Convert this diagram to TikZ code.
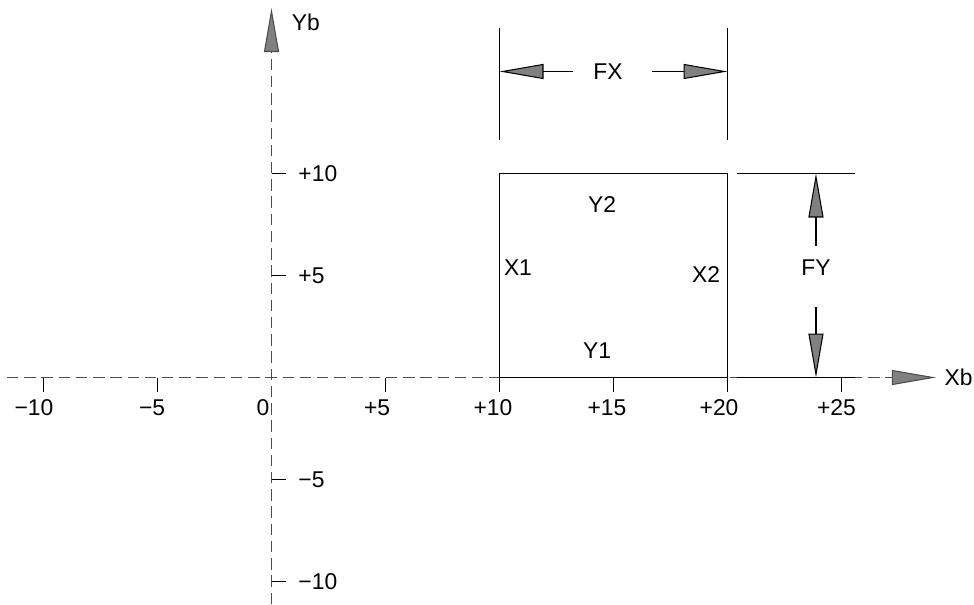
\documentclass[tikz,border=0pt]{standalone}
\usepackage{fontspec}
\setmainfont{Liberation Sans}
\usetikzlibrary{arrows.meta}

\begin{document}
\begin{tikzpicture}[
  x=0.456cm, y=0.408cm,
  line width=0.6pt,
  axis/.style={draw=black!70,dash pattern=on 6.5pt off 3.3pt},
  tick/.style={draw=black},
  extline/.style={draw=black},
  lbl/.style={font=\fontsize{13}{15}\selectfont,inner sep=0pt},
  arrow/.style={-{Triangle[length=0.88cm,width=0.3cm,fill=black!50]},draw=black}
]
\useasboundingbox (-11.908,-11.103) rectangle (30.811,18.505);
% axes
\coordinate (xaxisL) at (-11.6,0);
\coordinate (xaxisR) at (29.14,0);
\coordinate (yaxisB) at (0,-11.103);
\coordinate (yaxisT) at (0,18.11);
\draw[axis,arrow,draw=black!70] (xaxisL) -- (xaxisR);
\draw[axis,arrow,draw=black!70] (yaxisB) -- (yaxisT);
\node[lbl,anchor=west] (xb) at (29.5,0) {Xb};
\node[lbl] (yb) at (1.51,17.43) {Yb};
% ticks on Xb
\draw[tick] (-10,0) -- (-10,-0.686);
\draw[tick] (-5,0) -- (-5,-0.686);
\draw[tick] (5,0) -- (5,-0.686);
\draw[tick] (15,0) -- (15,-0.686);
\draw[tick] (25,0) -- (25,-0.686);
\node[lbl] (xm10) at (-10.42,-1.5) {−10};
\node[lbl] (xm5) at (-5.24,-1.5) {−5};
\node[lbl] (x0) at (-0.37,-1.5) {0};
\node[lbl] (xp5) at (4.63,-1.5) {+5};
\node[lbl] (xp10) at (9.71,-1.5) {+10};
\node[lbl] (xp15) at (14.71,-1.5) {+15};
\node[lbl] (xp20) at (19.63,-1.5) {+20};
\node[lbl] (xp25) at (24.78,-1.5) {+25};
% ticks on Yb
\draw[tick] (0,10) -- (0.614,10);
\draw[tick] (0,5) -- (0.614,5);
\draw[tick] (0,-5) -- (0.614,-5);
\draw[tick] (0,-10) -- (0.614,-10);
\node[lbl,anchor=west] (yp10) at (1.16,10) {+10};
\node[lbl,anchor=west] (yp5) at (1.16,5) {+5};
\node[lbl,anchor=west] (ym5) at (1.16,-5) {−5};
\node[lbl,anchor=west] (ym10) at (1.16,-10) {−10};
% field
\draw (10,-0.686) -- (10,10) -- (20,10) -- (20,-0.686);
\draw (10,0) -- (20,0);
\node[lbl] (y2) at (14.50,8.50) {Y2};
\node[lbl] (x1) at (10.81,5.37) {X1};
\node[lbl] (x2) at (19.06,5.07) {X2};
\node[lbl] (y1) at (14.28,1.30) {Y1};
% FX dimension
\draw[extline] (10,11.64) -- (10,17.13);
\draw[extline] (20,11.64) -- (20,17.13);
\coordinate (fxtipL) at (10,15);
\coordinate (fxtipR) at (20,15);
\coordinate (fxL) at (13.22,15);
\coordinate (fxR) at (16.69,15);
\node[lbl] (fx) at (14.76,14.98) {FX};
\draw[arrow] (fxL) -- (fxtipL);
\draw[arrow] (fxR) -- (fxtipR);
% FY dimension
\draw[extline] (20.42,10) -- (25.6,10);
\draw[extline] (20.42,0) -- (25.6,0);
\coordinate (fytipT) at (23.88,10);
\coordinate (fytipB) at (23.88,0);
\coordinate (fyT) at (23.88,6.45);
\coordinate (fyB) at (23.88,3.46);
\node[lbl] (fy) at (23.88,5.37) {FY};
\draw[arrow] (fyT) -- (fytipT);
\draw[arrow] (fyB) -- (fytipB);
\end{tikzpicture}
\end{document}
